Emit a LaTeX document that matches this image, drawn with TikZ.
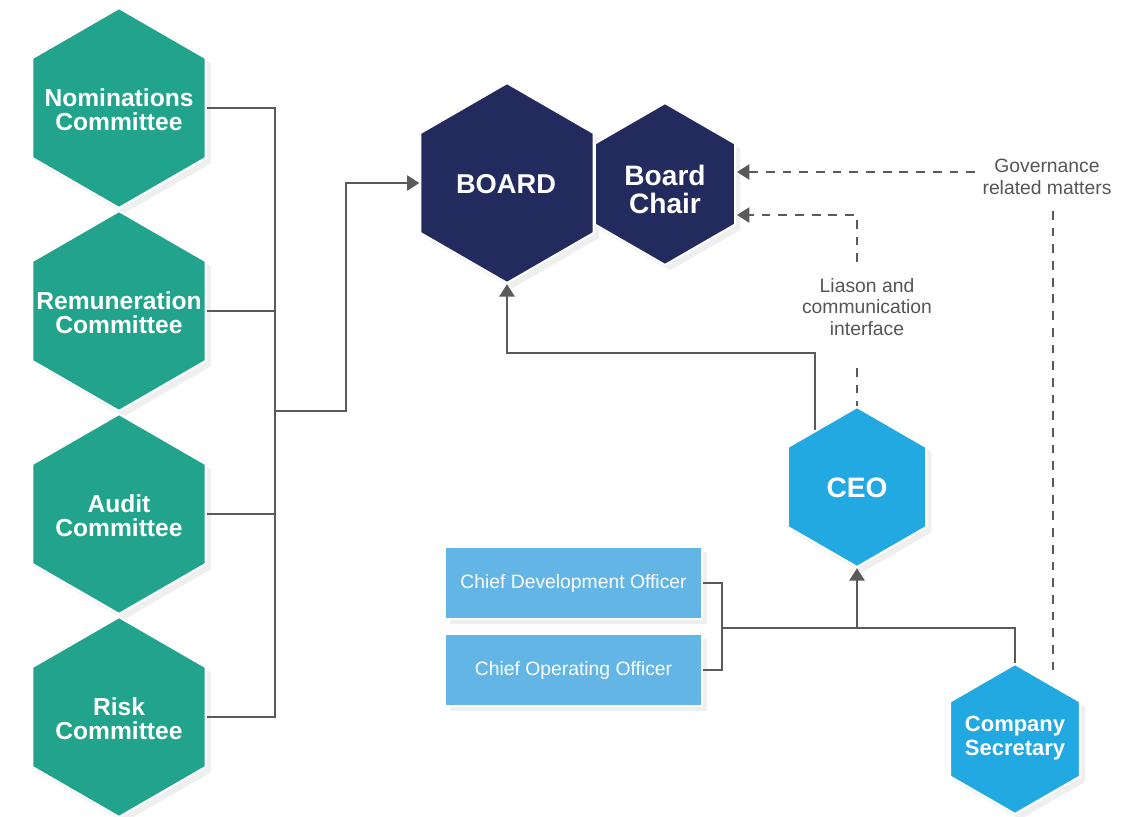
\documentclass[tikz,border=0pt]{standalone}
\usepackage{fontspec}
\setmainfont{Liberation Sans}
\usetikzlibrary{shapes.geometric,arrows.meta,shadows}
\definecolor{comgreen}{HTML}{22A38B}
\definecolor{boardnavy}{HTML}{232A5E}
\definecolor{ceoblue}{HTML}{23A9E1}
\definecolor{offblue}{HTML}{62B5E5}
\definecolor{linegray}{HTML}{5A5A5A}
\definecolor{notegray}{HTML}{555555}
\tikzset{
  hexa/.style={regular polygon, regular polygon sides=6, shape border rotate=30, minimum size=#1, inner sep=0pt,
    draw=white, line width=1.2pt, drop shadow={opacity=0.13, shadow xshift=3pt, shadow yshift=-3pt}},
  hextext/.style={text=white, align=center, inner sep=0pt},
  offbox/.style={fill=offblue, draw=white, line width=1pt, minimum width=5.14cm, minimum height=1.44cm,
    inner sep=0pt, text=white, font=\fontsize{11}{13}\selectfont,
    drop shadow={opacity=0.13, shadow xshift=3pt, shadow yshift=-3pt}},
  conn/.style={draw=linegray, line width=1.5pt},
  dsh/.style={draw=linegray, line width=1.5pt, dash pattern=on 5pt off 4.5pt},
  tip/.style={-{Triangle[width=8.5pt,length=7pt]}},
  note/.style={text=notegray, align=center, inner sep=0pt, font=\fontsize{11}{12.2}\selectfont},
  comfont/.style={font=\bfseries\fontsize{14}{13.6}\selectfont}
}
\begin{document}
\begin{tikzpicture}[x=0.02cm, y=-0.02cm]
\useasboundingbox (0,0) rectangle (1139,816);
% committees
\node[hexa=4cm, fill=comgreen] (nom) at (119,108) {};
\node[hexa=4cm, fill=comgreen] (rem) at (119,311) {};
\node[hexa=4cm, fill=comgreen] (aud) at (119,514) {};
\node[hexa=4cm, fill=comgreen] (risk) at (119,717) {};
\node[hextext, comfont] (nomT) at (119,110) {Nominations\\Committee};
\node[hextext, comfont] (remT) at (119,313) {Remuneration\\Committee};
\node[hextext, comfont] (audT) at (119,516) {Audit\\Committee};
\node[hextext, comfont] (riskT) at (119,719) {Risk\\Committee};
% board
\node[hexa=4cm, fill=boardnavy] (board) at (507,183) {};
\node[hextext, font=\bfseries\fontsize{15.5}{16}\selectfont] (boardT) at (506,184) {BOARD};
\node[hexa=3.24cm, fill=boardnavy] (chair) at (665,184) {};
\node[hextext, font=\bfseries\fontsize{16}{16}\selectfont] (chairT) at (665,189) {Board\\Chair};
% CEO
\node[hexa=3.2cm, fill=ceoblue] (ceo) at (857,487) {};
\node[hextext, font=\bfseries\fontsize{16}{16}\selectfont] (ceoT) at (857,488) {CEO};
% secretary
\node[hexa=3cm, fill=ceoblue] (sec) at (1015,739) {};
\node[hextext, font=\bfseries\fontsize{12.5}{13.6}\selectfont] (secT) at (1015,738) {Company\\Secretary};
% officers
\node[offbox] (cdo) at (573.5,583) {Chief Development Officer};
\node[offbox] (coo) at (573.5,670) {Chief Operating Officer};
% notes
\node[note] (gov) at (1047,177) {Governance\\related matters};
\node[note] (lia) at (867,307) {Liason and\\communication\\interface};
% committee connectors
\coordinate (j) at (275,411);
\coordinate (jb) at (346,411);
\draw[conn] (nom.east) -| (j);
\draw[conn] (rem.east) -| (j);
\draw[conn] (aud.east) -| (j);
\draw[conn] (risk.east) -| (j);
\draw[conn, tip] (j) -- (jb) |- (board.west);
% CEO to board
\coordinate (c1) at (815,430);
\coordinate (c2) at (507,353);
\draw[conn, tip] (c1) |- (c2) -- (board.south);
% officers
\coordinate (k) at (722,628);
\coordinate (k2) at (857,628);
\draw[conn] (cdo.east) -| (k);
\draw[conn] (coo.east) -| (k);
\draw[conn] (k) -| (sec.north);
\draw[conn, tip] (k2) -- (ceo.south);
% governance dashed
\coordinate (g1) at (975,172);
\coordinate (g2) at (737,172);
\coordinate (g3) at (1053,211);
\coordinate (g4) at (1053,673);
\draw[dsh, tip] (g1) -- (g2);
\draw[dsh] (g3) -- (g4);
% liaison dashed
\coordinate (l1) at (857,262);
\coordinate (l2) at (737,215);
\coordinate (l3) at (857,368);
\draw[dsh, tip] (l1) |- (l2);
\draw[dsh] (l3) -- (ceo.north);
\end{tikzpicture}
\end{document}
